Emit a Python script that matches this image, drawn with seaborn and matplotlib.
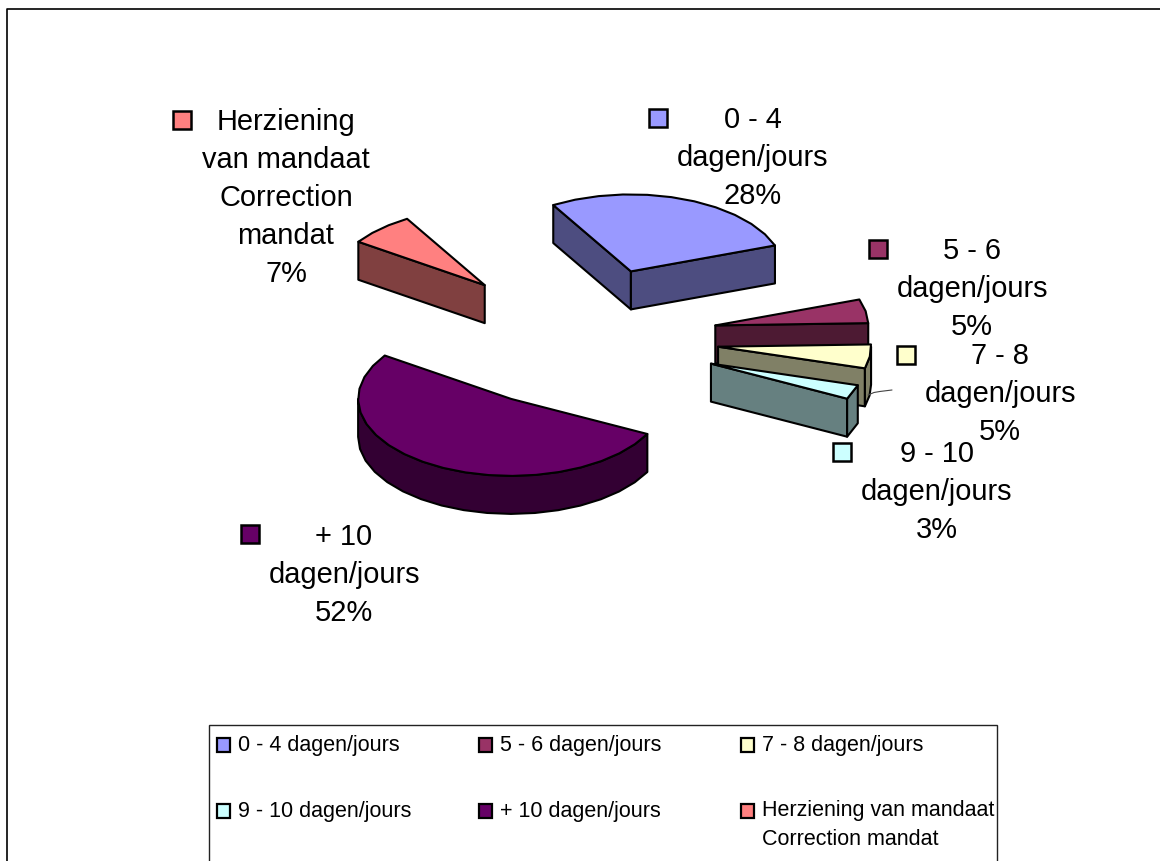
import numpy as np
import matplotlib
matplotlib.use("Agg")
import matplotlib.pyplot as plt
from matplotlib.patches import Polygon, Rectangle
import seaborn as sns

# Share of cases per processing time
categories = ["0 - 4 dagen/jours", "5 - 6 dagen/jours", "7 - 8 dagen/jours",
              "9 - 10 dagen/jours", "+ 10 dagen/jours",
              "Herziening van mandaat\nCorrection mandat"]
shares = [28, 5, 5, 3, 52, 7]

slice_labels = ["0 - 4\ndagen/jours\n28%", "5 - 6\ndagen/jours\n5%",
                "7 - 8\ndagen/jours\n5%", "9 - 10\ndagen/jours\n3%",
                "+ 10\ndagen/jours\n52%",
                "Herziening\nvan mandaat\nCorrection\nmandat\n7%"]
top_colors = ["#9999FF", "#993366", "#FFFFCC", "#CCFFFF", "#660066", "#FF8080"]
explode = [0.92, 0.88, 0.89, 0.90, 0.92, 0.94]

# Projection of the tilted pie, in canvas pixels
CX, CY, RX, RY, DEPTH = 583, 338, 153, 77, 38
START_DEG = -30.5
ARC_STEP_DEG = 9
EDGE_LW = 1.5

# Label block centres and the swatch beside each first line
label_pos = [(753, 158), (972, 289), (1000, 394), (937, 492), (344, 575), (286, 198)]
swatch_pos = [(658, 118), (878, 249), (906, 355), (842, 452), (250, 534), (182, 120)]
legend_swatch = [(223, 745), (485, 745), (747, 745), (223, 811), (485, 811), (747, 811)]

sns.set_theme(style="white")
plt.rcParams["font.family"] = ["Liberation Sans", "DejaVu Sans"]
palette = sns.color_palette(top_colors)

W, H = 1160, 861
fig = plt.figure(figsize=(W / 100, H / 100), dpi=100, facecolor="white")
ax = fig.add_axes([0, 0, 1, 1])
ax.set_xlim(0, W)
ax.set_ylim(H, 0)
ax.axis("off")


def point(center, angle):
    """Project a clockwise-from-top angle onto the pie's ellipse."""
    a = np.radians(angle)
    return center[0] + RX * np.sin(a), center[1] - RY * np.cos(a)


def drop(points):
    """Same points on the underside of the pie."""
    return [(x, y + DEPTH) for x, y in points]


def add_face(points, face):
    ax.add_patch(Polygon(points, closed=True, facecolor=face, edgecolor="black",
                         linewidth=EDGE_LW, joinstyle="round"))


def arc_points(center, a0, a1):
    n = max(2, int(round((a1 - a0) / ARC_STEP_DEG)) + 1)
    return [point(center, a) for a in np.linspace(a0, a1, n)]


def draw_slice(start, span, offset, color):
    end = start + span
    rim = point((CX, CY), start + span / 2)
    center = (CX + (rim[0] - CX) * offset, CY + (rim[1] - CY) * offset)
    arc = arc_points(center, start, end)
    side = tuple(c * 0.5 for c in color)

    # Cut faces are seen only when the rim end lies on the matching side of the apex
    if arc[0][0] < center[0]:
        add_face([center, arc[0]] + drop([arc[0], center]), side)
    if arc[-1][0] > center[0]:
        add_face([center, arc[-1]] + drop([arc[-1], center]), side)

    # The outer wall shows on the near half of the ellipse only
    near_start, near_end = max(start, 90), min(end, 270)
    if near_end > near_start:
        band = arc_points(center, near_start, near_end)
        add_face(band + drop(band)[::-1], side)

    add_face([center] + arc, color)


# Slice angles follow from the shares; painted back to front
total = sum(shares)
spans = [s / total * 360 for s in shares]
starts = START_DEG + np.cumsum([0] + spans[:-1])
for i in [5, 0, 1, 2, 3, 4]:
    draw_slice(starts[i], spans[i], explode[i], palette[i])

# Leader from the 7 - 8 slice to its label
t = np.array([0.0, 0.25, 0.5, 1.0])
ax.plot(868 + 24 * t, 395 - 5 * np.sqrt(t), color="#444444", lw=0.8)

# Slice labels with their swatches
for label, (lx, ly), (sx, sy), color in zip(slice_labels, label_pos, swatch_pos, palette):
    ax.text(lx, ly, label, ha="center", va="center", fontsize=20.9,
            linespacing=1.45, color="black")
    ax.add_patch(Rectangle((sx - 9, sy - 9), 18, 18, facecolor=color,
                           edgecolor="black", linewidth=1.8))

# Legend box, running off the bottom of the canvas
ax.add_patch(Rectangle((209, 725), 788, 160, facecolor="white", edgecolor="#222222",
                       linewidth=1.0))
for label, (sx, sy), color in zip(categories, legend_swatch, palette):
    ax.add_patch(Rectangle((sx - 6.5, sy - 7), 13, 14, facecolor=color,
                           edgecolor="black", linewidth=1.6))
    text_y = sy + 14 * label.count("\n")
    ax.text(sx + 14.5, text_y, label, ha="left", va="center",
            fontsize=15.5, linespacing=1.47, color="black")

# Chart frame: only the top and left edges fall inside the canvas
ax.plot([7, 7, W + 5], [H + 5, 9, 9], color="black", lw=1.2)

fig.savefig("out.png", dpi=100)
